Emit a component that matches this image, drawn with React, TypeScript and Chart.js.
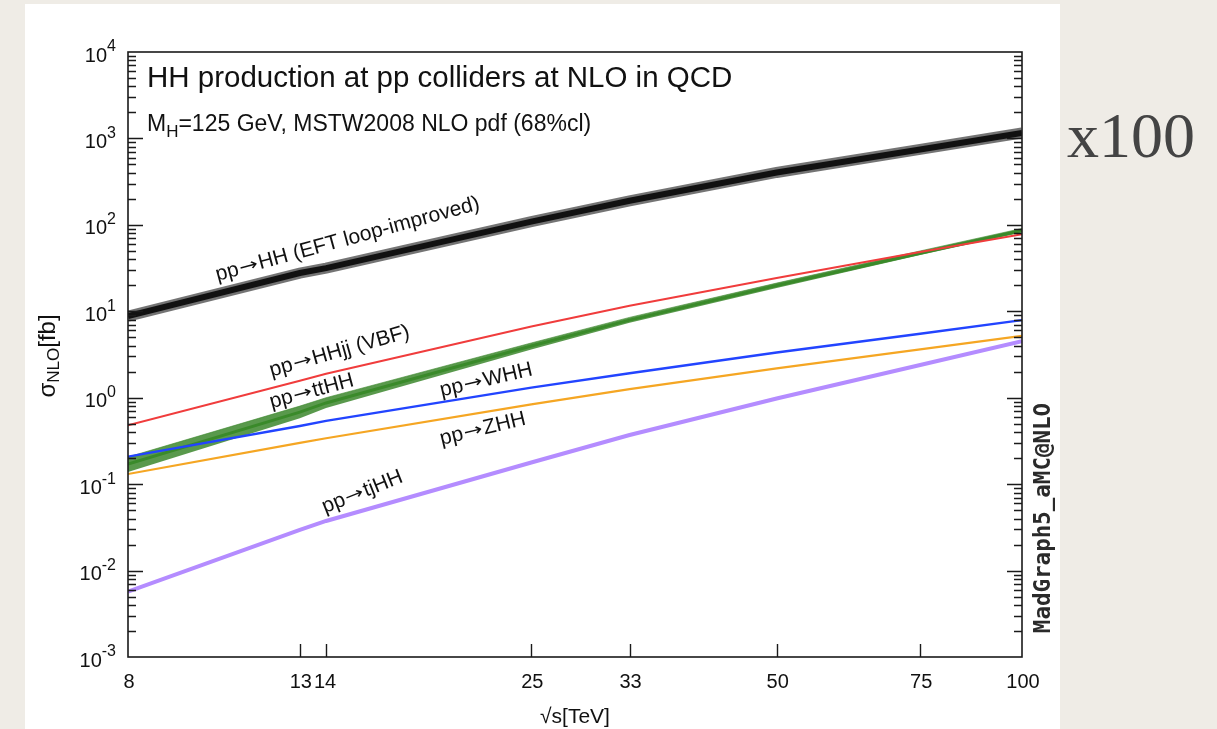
import React, { useEffect, useRef } from "react";
import { Chart, registerables } from "chart.js";

Chart.register(...registerables);

// sqrt(s) in TeV
const energies = [8, 13, 14, 25, 33, 50, 75, 100];
// cross sections in fb
const hhEFT = [8.8, 27.7, 31.6, 109, 190, 404, 746, 1160];
const hhjjVBF = [0.48, 1.57, 1.89, 6.65, 11.6, 24.3, 48.5, 78];
const ttHH = [0.171, 0.68, 0.87, 3.96, 7.9, 19.9, 47, 86];
const ttHHLow = [0.138, 0.58, 0.76, 3.62, 7.35, 18.6, 44.8, 81.6];
const ttHHHigh = [0.206, 0.8, 1.0, 4.3, 8.5, 21.2, 49.9, 90.8];
const whh = [0.208, 0.47, 0.54, 1.31, 1.92, 3.33, 5.5, 7.9];
const zhh = [0.131, 0.3, 0.34, 0.837, 1.26, 2.18, 3.63, 5.2];
const tjhh = [0.0057, 0.0295, 0.0375, 0.178, 0.37, 0.98, 2.39, 4.5];

const xTickValues = [8, 13, 14, 25, 33, 50, 75, 100];
const yDecadeExponents = [-3, -2, -1, 0, 1, 2, 3, 4];

// curve labels: process after the arrow, anchor (sqrt s, sigma), rotation in degrees
const curveLabels = [
  { rest: "HH (EFT loop-improved)", x: 10.3, y: 22.4, angle: -15.3 },
  { rest: "HHjj (VBF)", x: 12.0, y: 1.75, angle: -15.8 },
  { rest: "ttHH", x: 12.0, y: 0.755, angle: -15.0 },
  { rest: "WHH", x: 19.4, y: 1.03, angle: -13.1 },
  { rest: "ZHH", x: 19.4, y: 0.284, angle: -13.5 },
  { rest: "tjHH", x: 13.96, y: 0.046, angle: -21.8 },
];

const SANS = '"Liberation Sans", Arial, Helvetica, sans-serif';
const ARROWFONT = '"DejaVu Sans", sans-serif';

const pts = (vals: number[]) => energies.map((e, i) => ({ x: e, y: vals[i] }));

const overlayPlugin = {
  id: "overlay",
  beforeDraw(chart: any) {
    const ctx = chart.ctx as CanvasRenderingContext2D;
    ctx.save();
    ctx.fillStyle = "#efece6";
    ctx.fillRect(0, 0, chart.width, chart.height);
    ctx.fillStyle = "#ffffff";
    ctx.fillRect(25, 4, 1035, chart.height - 4);
    ctx.restore();
  },
  afterDraw(chart: any) {
    const ctx = chart.ctx as CanvasRenderingContext2D;
    const xs = chart.scales.x;
    const ys = chart.scales.y;
    const a = chart.chartArea;
    ctx.save();
    ctx.strokeStyle = "#1a1a1a";
    ctx.lineWidth = 1.6;
    ctx.strokeRect(a.left, a.top, a.right - a.left, a.bottom - a.top);

    // y ticks (inward, both sides)
    ctx.lineWidth = 1.4;
    ctx.beginPath();
    for (let e = -3; e <= 4; e++) {
      for (let m = 1; m <= 9; m++) {
        const v = m * Math.pow(10, e);
        if (v > 1e4 * 1.0001) continue;
        if (e === 4 && m === 1) continue;
        if (e === -3 && m === 1) continue;
        const py = Math.round(ys.getPixelForValue(v)) + 0.5;
        const len = m === 1 ? 15 : 8;
        ctx.moveTo(a.left, py);
        ctx.lineTo(a.left + len, py);
        ctx.moveTo(a.right, py);
        ctx.lineTo(a.right - len, py);
      }
    }
    // x ticks
    for (const t of xTickValues) {
      if (t === 8 || t === 100) continue;
      const px = Math.round(xs.getPixelForValue(t)) + 0.5;
      ctx.moveTo(px, a.bottom);
      ctx.lineTo(px, a.bottom - 13);
    }
    ctx.stroke();

    ctx.fillStyle = "#111";
    // y tick labels 10^e
    for (const e of yDecadeExponents) {
      const py = ys.getPixelForValue(Math.pow(10, e));
      const expStr = String(e);
      ctx.font = `16px ${SANS}`;
      const we = ctx.measureText(expStr).width;
      const right = 116;
      ctx.textAlign = "left";
      ctx.textBaseline = "middle";
      ctx.fillText(expStr, right - we, py - 5);
      ctx.font = `20px ${SANS}`;
      ctx.textAlign = "right";
      ctx.fillText("10", right - we, py + 4);
    }
    // x tick labels
    ctx.font = `20px ${SANS}`;
    ctx.textAlign = "center";
    ctx.textBaseline = "middle";
    for (const t of xTickValues) {
      const px = xs.getPixelForValue(t);
      ctx.fillText(String(t), px + (t === 14 ? -1 : 1), 682);
    }
    // x axis title
    ctx.font = `21px ${SANS}`;
    ctx.fillText("\u221As[TeV]", 575, 717);

    // y axis title (rotated)
    ctx.save();
    ctx.translate(48, 356);
    ctx.rotate(-Math.PI / 2);
    ctx.textBaseline = "middle";
    ctx.textAlign = "left";
    const parts = [
      { t: "\u03C3", f: 24, dy: 0 },
      { t: "NLO", f: 17, dy: 6 },
      { t: "[fb]", f: 24, dy: 0 },
    ];
    let total = 0;
    for (const p of parts) {
      ctx.font = `${p.f}px ${SANS}`;
      total += ctx.measureText(p.t).width;
    }
    let cx = -total / 2;
    for (const p of parts) {
      ctx.font = `${p.f}px ${SANS}`;
      ctx.fillText(p.t, cx, p.dy);
      cx += ctx.measureText(p.t).width;
    }
    ctx.restore();

    // title and subtitle inside plot
    ctx.textAlign = "left";
    ctx.textBaseline = "alphabetic";
    ctx.font = `29.5px ${SANS}`;
    ctx.fillText("HH production at pp colliders at NLO in QCD", 147, 87);
    ctx.font = `23px ${SANS}`;
    let sx = 147;
    ctx.fillText("M", sx, 131);
    sx += ctx.measureText("M").width;
    ctx.font = `17px ${SANS}`;
    ctx.fillText("H", sx, 137);
    sx += ctx.measureText("H").width;
    ctx.font = `23px ${SANS}`;
    ctx.fillText("=125 GeV, MSTW2008 NLO pdf (68%cl)", sx, 131);

    // curve labels
    for (const l of curveLabels) {
      const px = xs.getPixelForValue(l.x);
      const py = ys.getPixelForValue(l.y);
      ctx.save();
      ctx.translate(px, py);
      ctx.rotate((l.angle * Math.PI) / 180);
      ctx.textAlign = "left";
      ctx.textBaseline = "alphabetic";
      let tx = 0;
      ctx.font = `21px ${SANS}`;
      ctx.fillText("pp", tx, 0);
      tx += ctx.measureText("pp").width + 1;
      ctx.font = `17px ${ARROWFONT}`;
      const aw = ctx.measureText("\u2192").width;
      const sc = 19 / aw;
      ctx.save();
      ctx.translate(tx, -1);
      ctx.scale(sc, 1);
      ctx.fillText("\u2192", 0, 0);
      ctx.restore();
      tx += 19 + 1;
      ctx.font = `21px ${SANS}`;
      ctx.fillText(l.rest, tx, 0);
      ctx.restore();
    }

    // program tag
    ctx.save();
    ctx.translate(1044, 518);
    ctx.rotate(-Math.PI / 2);
    ctx.font = `bold 22.5px "DejaVu Sans Mono", "Liberation Mono", monospace`;
    ctx.textAlign = "center";
    ctx.textBaseline = "middle";
    ctx.fillStyle = "#2a2a2a";
    ctx.fillText("MadGraph5_aMC@NLO", 0, 0);
    ctx.restore();

    // slide annotation
    ctx.font = `64px "Liberation Serif", "DejaVu Serif", serif`;
    ctx.fillStyle = "#444";
    ctx.textAlign = "left";
    ctx.textBaseline = "alphabetic";
    ctx.fillText("x100", 1067, 157);

    ctx.restore();
  },
};

export default function App() {
  const ref = useRef<HTMLCanvasElement | null>(null);
  useEffect(() => {
    if (!ref.current) return;
    const line = (label: string, vals: number[], color: string, width: number, order: number) => ({
      label,
      data: pts(vals),
      borderColor: color,
      borderWidth: width,
      pointRadius: 0,
      tension: 0,
      fill: false,
      order,
    });
    const chart = new Chart(ref.current, {
      type: "line",
      data: {
        datasets: [
          line("pp->HH band", hhEFT, "rgba(70,70,70,0.75)", 11, 2),
          line("pp->HH (EFT loop-improved)", hhEFT, "#111111", 6, 1),
          line("pp->HHjj (VBF)", hhjjVBF, "#f03c3c", 2, 3),
          line("ttHH low", ttHHLow, "rgba(0,0,0,0)", 0, 8),
          {
            label: "ttHH high",
            data: pts(ttHHHigh),
            borderColor: "rgba(60,135,45,0.6)",
            borderWidth: 1,
            backgroundColor: "rgba(60,135,45,0.85)",
            pointRadius: 0,
            tension: 0,
            fill: "-1",
            order: 7,
          },
          line("pp->ttHH", ttHH, "#3a8a2a", 3, 6),
          line("pp->WHH", whh, "#2244ff", 2.4, 4),
          line("pp->ZHH", zhh, "#f5a623", 2.2, 5),
          line("pp->tjHH", tjhh, "#b48cff", 4, 9),
        ],
      },
      options: {
        responsive: false,
        animation: false,
        events: [],
        layout: { padding: { left: 128, top: 52, right: 195, bottom: 72 } },
        plugins: {
          legend: { display: false },
          tooltip: { enabled: false },
          title: { display: false },
        },
        scales: {
          x: { type: "logarithmic", min: 8, max: 100, display: false },
          y: { type: "logarithmic", min: 1e-3, max: 1e4, display: false },
        },
      },
      plugins: [overlayPlugin],
    });
    return () => chart.destroy();
  }, []);
  return (
    <div style={{ position: "fixed", left: 0, top: 0, width: 1217, height: 729 }}>
      <canvas ref={ref} width={1217} height={729} style={{ display: "block", width: 1217, height: 729 }} />
    </div>
  );
}
